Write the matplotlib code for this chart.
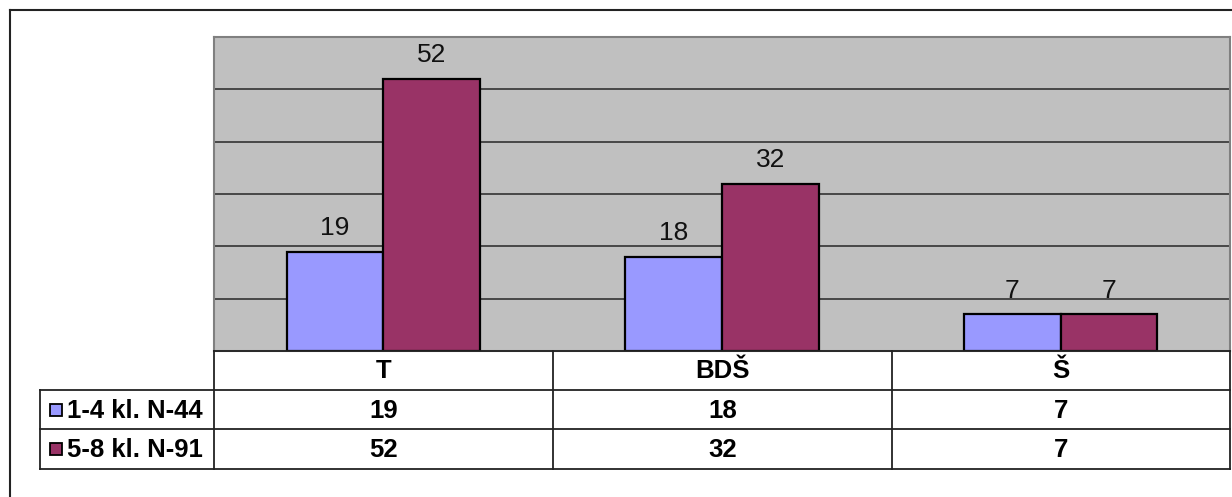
import matplotlib
matplotlib.use("Agg")
import matplotlib.pyplot as plt
from matplotlib.lines import Line2D
from matplotlib.patches import Rectangle

plt.rcParams['font.family'] = ['Liberation Sans', 'DejaVu Sans']

categories = ['T', 'BDŠ', 'Š']
series_names = ['1-4 kl. N-44', '5-8 kl. N-91']
vals_1_4 = [19, 18, 7]
vals_5_8 = [52, 32, 7]
colors = ['#9999FF', '#993366']

W, H = 1232, 497
fig = plt.figure(figsize=(W / 100, H / 100), dpi=100)

def fx(px):
    return px / W

def fy(py):
    return 1 - py / H

# plot area
left, right, top, bottom = 214, 1230, 37, 351
ax = fig.add_axes([fx(left), fy(bottom), fx(right - left), fy(top) - fy(bottom)])
ax.set_facecolor('#C0C0C0')
ax.set_xlim(-0.5, len(categories) - 0.5)
ax.set_ylim(0, 60)
ax.set_yticks(range(10, 60, 10))
ax.yaxis.grid(True, color='#333333', linewidth=1.2)
ax.set_axisbelow(True)
ax.tick_params(left=False, bottom=False, labelleft=False, labelbottom=False)
for s in ax.spines.values():
    s.set_color('#808080')
    s.set_linewidth(1.5)

bw = 1 / 3.5
x = list(range(len(categories)))
for i, (vals, c) in enumerate(zip([vals_1_4, vals_5_8], colors)):
    pos = [xi + (i - 0.5) * bw for xi in x]
    bars = ax.bar(pos, vals, width=bw, color=c, edgecolor='black', linewidth=1.6, zorder=3)
    for b, v in zip(bars, vals):
        ax.annotate(str(v), (b.get_x() + b.get_width() / 2, v), xytext=(0, 8.5),
                    textcoords='offset points', ha='center', va='bottom',
                    fontsize=19, color='#111111')

# outer frame
fig.add_artist(Line2D([fx(9.5), fx(1240)], [fy(9.5), fy(9.5)], color='#222222', lw=1.5))
fig.add_artist(Line2D([fx(9.5), fx(9.5)], [fy(9.5), fy(510)], color='#222222', lw=1.5))

# data table
rows_y = [351, 390, 429, 469]
col_x = [214, 553, 892, 1230]
lc = '#222222'
for j, yy in enumerate(rows_y):
    x0 = 40 if j >= 1 else 214
    fig.add_artist(Line2D([fx(x0), fx(1230)], [fy(yy), fy(yy)], color=lc, lw=1.3))
for xx in col_x:
    fig.add_artist(Line2D([fx(xx), fx(xx)], [fy(351), fy(469)], color=lc, lw=1.3))
fig.add_artist(Line2D([fx(40), fx(40)], [fy(390), fy(469)], color=lc, lw=1.3))

fs = 18.5
for k, cat in enumerate(categories):
    cx = (col_x[k] + col_x[k + 1]) / 2
    fig.text(fx(cx), fy((rows_y[0] + rows_y[1]) / 2 + 1), cat, ha='center', va='center',
             fontsize=fs, fontweight='bold')
    for r, vals in enumerate([vals_1_4, vals_5_8]):
        fig.text(fx(cx), fy((rows_y[r + 1] + rows_y[r + 2]) / 2 + 1), str(vals[k]),
                 ha='center', va='center', fontsize=fs, fontweight='bold')

for r, (name, c) in enumerate(zip(series_names, colors)):
    cy = (rows_y[r + 1] + rows_y[r + 2]) / 2
    fig.add_artist(Rectangle((fx(49.5), fy(cy + 6)), fx(12), fy(cy - 6) - fy(cy + 6),
                             facecolor=c, edgecolor='black', lw=1.3))
    fig.text(fx(67), fy(cy + 1), name, ha='left', va='center', fontsize=fs, fontweight='bold')

fig.savefig('out.png', dpi=100, facecolor='white')
